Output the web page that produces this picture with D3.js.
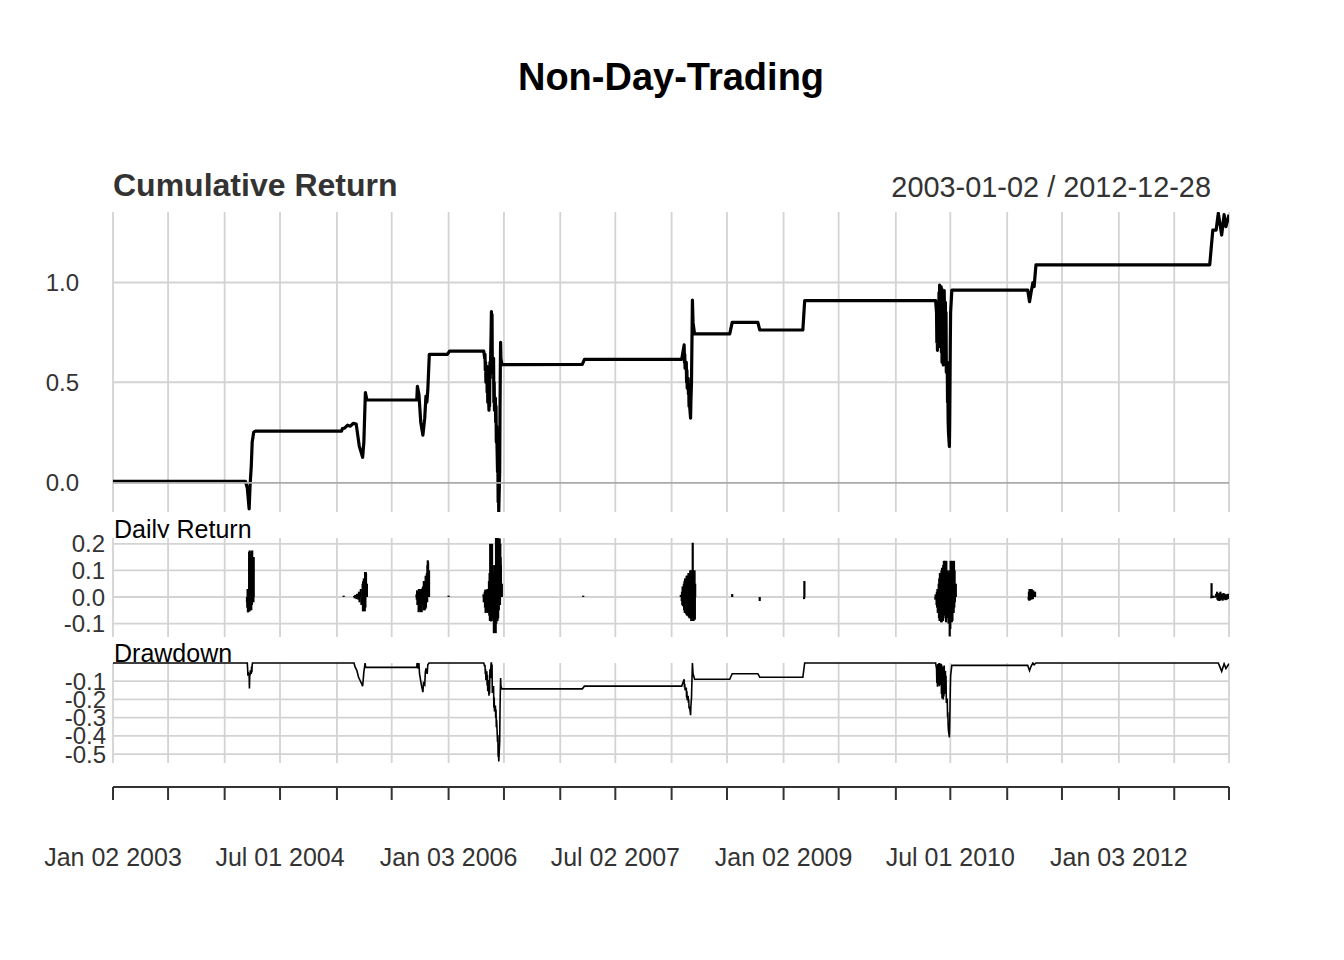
<!DOCTYPE html>
<html><head><meta charset="utf-8">
<script src="https://cdn.jsdelivr.net/npm/d3@7"></script>
<style>body{margin:0;background:#fff}svg{display:block}text{font-family:"Liberation Sans",Arial,sans-serif}</style>
</head><body>
<svg id="c" width="1344" height="960"></svg>
<script>
const chartTitle = "Non-Day-Trading";
const dateRange = "2003-01-02 / 2012-12-28";
const xTickDates = ["2003-01-02","2003-07-01","2004-01-02","2004-07-01","2005-01-03","2005-07-01","2006-01-03","2006-07-03","2007-01-03","2007-07-02","2008-01-02","2008-07-01","2009-01-02","2009-07-01","2010-01-04","2010-07-01","2011-01-03","2011-07-01","2012-01-03","2012-07-02","2012-12-28"];
const xTickLabels = ["Jan 02 2003","","","Jul 01 2004","","","Jan 03 2006","","","Jul 02 2007","","","Jan 02 2009","","","Jul 01 2010","","","Jan 03 2012","",""];
const cumTicks = [0.0, 0.5, 1.0];
const retTicks = [0.2, 0.1, 0.0, -0.1];
const ddTicks = [-0.1, -0.2, -0.3, -0.4, -0.5];

const cumulative = [
["2003-01-02",0.003],["2004-03-10",0.003],["2004-03-16",-0.03],["2004-03-22",-0.135],["2004-03-25",-0.02],["2004-03-29",0.08],["2004-04-01",0.2],["2004-04-06",0.25],["2004-04-12",0.255],
["2005-01-18",0.255],["2005-01-21",0.268],["2005-01-28",0.27],["2005-02-07",0.285],["2005-02-16",0.28],["2005-02-25",0.294],["2005-03-07",0.29],["2005-03-17",0.18],["2005-03-28",0.124],["2005-04-01",0.2],["2005-04-06",0.448],["2005-04-11",0.411],
["2005-09-21",0.411],["2005-09-23",0.48],["2005-09-28",0.44],["2005-10-04",0.3],["2005-10-11",0.235],["2005-10-17",0.32],["2005-10-21",0.43],["2005-10-24",0.40],["2005-10-27",0.46],["2005-11-01",0.64],
["2005-12-30",0.64],["2006-01-06",0.656],
["2006-04-28",0.656],["2006-05-01",0.62],["2006-05-02",0.64],["2006-05-03",0.56],["2006-05-04",0.60],["2006-05-05",0.50],["2006-05-08",0.58],["2006-05-09",0.45],["2006-05-10",0.55],["2006-05-11",0.40],["2006-05-12",0.50],["2006-05-15",0.36],["2006-05-16",0.45],["2006-05-17",0.38],["2006-05-18",0.60],["2006-05-19",0.52],["2006-05-22",0.75],["2006-05-23",0.854],["2006-05-24",0.70],["2006-05-25",0.84],["2006-05-26",0.55],["2006-05-30",0.62],["2006-05-31",0.40],["2006-06-01",0.50],["2006-06-02",0.36],["2006-06-05",0.42],["2006-06-06",0.30],["2006-06-07",0.38],["2006-06-08",0.20],["2006-06-09",0.28],["2006-06-12",0.05],["2006-06-13",0.12],["2006-06-14",-0.10],["2006-06-15",-0.05],["2006-06-16",-0.149],["2006-06-19",0.05],["2006-06-20",0.35],["2006-06-21",0.55],["2006-06-22",0.70],["2006-06-23",0.62],["2006-06-26",0.59],["2006-06-28",0.588],
["2007-03-16",0.59],["2007-03-23",0.615],
["2008-02-04",0.615],["2008-02-12",0.687],["2008-02-13",0.60],["2008-02-14",0.64],["2008-02-15",0.57],["2008-02-19",0.60],["2008-02-20",0.50],["2008-02-21",0.56],["2008-02-22",0.47],["2008-02-25",0.52],["2008-02-26",0.44],["2008-02-27",0.48],["2008-02-28",0.38],["2008-02-29",0.40],["2008-03-03",0.34],["2008-03-04",0.32],["2008-03-05",0.40],["2008-03-07",0.50],["2008-03-10",0.912],["2008-03-12",0.80],["2008-03-17",0.742],
["2008-07-10",0.742],["2008-07-18",0.80],["2008-10-10",0.80],["2008-10-16",0.762],["2009-03-06",0.762],["2009-03-12",0.909],
["2010-05-14",0.909],["2010-05-17",0.85],["2010-05-18",0.70],["2010-05-19",0.80],["2010-05-20",0.66],["2010-05-21",0.90],["2010-05-24",0.68],["2010-05-25",0.95],["2010-05-26",0.70],["2010-05-27",0.987],["2010-05-28",0.75],["2010-06-01",0.98],["2010-06-02",0.65],["2010-06-03",0.97],["2010-06-04",0.60],["2010-06-07",0.95],["2010-06-08",0.587],["2010-06-09",0.92],["2010-06-10",0.62],["2010-06-11",0.96],["2010-06-14",0.65],["2010-06-15",0.90],["2010-06-16",0.68],["2010-06-17",0.85],["2010-06-18",0.55],["2010-06-21",0.60],["2010-06-22",0.40],["2010-06-23",0.45],["2010-06-24",0.30],["2010-06-25",0.25],["2010-06-28",0.178],["2010-06-29",0.30],["2010-06-30",0.50],["2010-07-01",0.70],["2010-07-02",0.85],["2010-07-06",0.962],
["2011-03-11",0.962],["2011-03-17",0.904],["2011-03-22",0.95],["2011-03-28",1.0],["2011-04-01",0.98],["2011-04-07",1.088],
["2012-10-26",1.088],["2012-11-05",1.263],["2012-11-16",1.263],["2012-11-23",1.347],["2012-11-29",1.29],["2012-12-04",1.238],["2012-12-12",1.34],["2012-12-18",1.28],["2012-12-28",1.34]
];

const dailyReturns = [
["2004-03-15",-0.02],["2004-03-16",-0.04],["2004-03-17",0.03],["2004-03-18",-0.058],["2004-03-19",-0.05],["2004-03-22",0.17],["2004-03-23",-0.055],["2004-03-24",0.175],["2004-03-25",-0.045],["2004-03-26",0.16],["2004-03-29",-0.05],["2004-03-30",0.17],["2004-03-31",-0.03],["2004-04-01",0.175],["2004-04-02",0.12],["2004-04-05",-0.02],["2004-04-06",0.15],
["2005-01-25",0.005],
["2005-02-28",0.004],["2005-03-02",-0.005],["2005-03-04",0.008],["2005-03-08",-0.008],["2005-03-10",0.012],["2005-03-14",-0.01],["2005-03-16",0.02],["2005-03-18",-0.02],["2005-03-22",0.03],["2005-03-24",-0.03],["2005-03-28",0.05],["2005-03-29",-0.054],["2005-03-30",0.06],["2005-03-31",-0.05],["2005-04-01",0.07],["2005-04-04",-0.054],["2005-04-05",0.094],["2005-04-06",-0.04],["2005-04-07",0.094],["2005-04-08",0.09],["2005-04-11",0.05],
["2005-09-20",0.01],["2005-09-21",-0.01],["2005-09-22",0.025],["2005-09-23",-0.03],["2005-09-26",0.02],["2005-09-27",-0.057],["2005-09-28",0.03],["2005-09-29",-0.05],["2005-09-30",0.025],["2005-10-03",-0.057],["2005-10-04",0.03],["2005-10-05",-0.04],["2005-10-06",0.03],["2005-10-07",-0.057],["2005-10-10",0.035],["2005-10-11",-0.03],["2005-10-12",0.04],["2005-10-13",-0.05],["2005-10-14",0.06],["2005-10-17",-0.05],["2005-10-18",0.06],["2005-10-19",-0.045],["2005-10-20",0.08],["2005-10-21",-0.04],["2005-10-24",0.09],["2005-10-25",-0.02],["2005-10-26",0.12],["2005-10-27",0.138],["2005-10-28",0.13],["2005-10-31",0.1],
["2006-01-03",0.005],
["2006-04-27",0.01],["2006-04-28",-0.02],["2006-05-01",0.02],["2006-05-02",-0.04],["2006-05-03",0.028],["2006-05-04",-0.06],["2006-05-05",0.02],["2006-05-08",-0.05],["2006-05-09",0.028],["2006-05-10",-0.06],["2006-05-11",0.03],["2006-05-12",-0.055],["2006-05-15",0.06],["2006-05-16",-0.07],["2006-05-17",0.09],["2006-05-18",-0.09],["2006-05-19",0.2],["2006-05-22",-0.092],["2006-05-23",0.08],["2006-05-24",-0.09],["2006-05-25",0.2],["2006-05-26",-0.08],["2006-05-30",0.09],["2006-05-31",-0.136],["2006-06-01",0.12],["2006-06-02",-0.12],["2006-06-05",0.1],["2006-06-06",-0.136],["2006-06-07",0.226],["2006-06-08",-0.1],["2006-06-09",0.22],["2006-06-12",-0.09],["2006-06-13",0.226],["2006-06-14",-0.08],["2006-06-15",0.22],["2006-06-16",-0.05],["2006-06-19",0.22],["2006-06-20",-0.03],["2006-06-21",0.2],["2006-06-22",0.15],["2006-06-23",0.12],["2006-06-26",0.05],
["2007-03-19",0.005],
["2008-02-01",0.008],["2008-02-04",-0.015],["2008-02-05",0.02],["2008-02-06",-0.03],["2008-02-07",0.04],["2008-02-08",-0.035],["2008-02-11",0.05],["2008-02-12",-0.05],["2008-02-13",0.06],["2008-02-14",-0.06],["2008-02-15",0.07],["2008-02-19",-0.065],["2008-02-20",0.08],["2008-02-21",-0.07],["2008-02-22",0.08],["2008-02-25",-0.07],["2008-02-26",0.09],["2008-02-27",-0.075],["2008-02-28",0.09],["2008-02-29",-0.08],["2008-03-03",0.1],["2008-03-04",-0.08],["2008-03-05",0.1],["2008-03-06",-0.09],["2008-03-07",0.1],["2008-03-10",-0.09],["2008-03-11",0.204],["2008-03-12",-0.09],["2008-03-13",0.1],["2008-03-14",-0.09],["2008-03-17",0.1],["2008-03-18",-0.085],["2008-03-19",0.05],
["2008-07-18",0.011],["2008-10-16",-0.015],["2009-03-10",-0.008],["2009-03-11",0.06],
["2010-05-13",-0.01],["2010-05-14",0.01],["2010-05-17",-0.03],["2010-05-18",0.02],["2010-05-19",-0.04],["2010-05-20",0.03],["2010-05-21",-0.06],["2010-05-24",0.05],["2010-05-25",-0.08],["2010-05-26",0.07],["2010-05-27",-0.09],["2010-05-28",0.09],["2010-06-01",-0.095],["2010-06-02",0.1],["2010-06-03",-0.095],["2010-06-04",0.11],["2010-06-07",-0.09],["2010-06-08",0.12],["2010-06-09",-0.08],["2010-06-10",0.136],["2010-06-11",-0.07],["2010-06-14",0.136],["2010-06-15",-0.06],["2010-06-16",0.13],["2010-06-17",-0.095],["2010-06-18",0.136],["2010-06-21",-0.06],["2010-06-22",0.1],["2010-06-23",-0.08],["2010-06-24",0.09],["2010-06-25",-0.1],["2010-06-28",0.1],["2010-06-29",-0.148],["2010-06-30",0.08],["2010-07-01",-0.12],["2010-07-02",0.136],["2010-07-06",-0.095],["2010-07-07",0.136],["2010-07-08",-0.09],["2010-07-09",0.13],["2010-07-12",-0.06],["2010-07-13",0.136],["2010-07-14",-0.04],["2010-07-15",0.1],["2010-07-16",-0.02],["2010-07-19",0.05],
["2011-03-14",-0.01],["2011-03-15",0.02],["2011-03-16",-0.014],["2011-03-17",0.03],["2011-03-18",-0.012],["2011-03-21",0.03],["2011-03-22",0.025],["2011-03-23",-0.01],["2011-03-24",0.03],["2011-03-25",0.02],["2011-03-28",-0.008],["2011-03-29",0.025],["2011-03-30",0.015],["2011-04-04",0.02],
["2012-10-31",-0.005],["2012-11-01",0.052],["2012-11-02",0.005],["2012-11-05",-0.004],["2012-11-08",0.005],["2012-11-13",-0.003],["2012-11-16",0.012],["2012-11-19",0.02],["2012-11-20",-0.01],["2012-11-21",0.015],["2012-11-23",-0.014],["2012-11-26",0.01],["2012-11-27",-0.015],["2012-11-28",0.015],["2012-11-29",-0.012],["2012-11-30",0.02],["2012-12-03",-0.01],["2012-12-05",0.012],["2012-12-07",-0.014],["2012-12-10",0.015],["2012-12-12",-0.01],["2012-12-14",0.012],["2012-12-17",-0.012],["2012-12-19",0.01],["2012-12-21",-0.01],["2012-12-24",0.012],["2012-12-26",-0.008],["2012-12-28",0.01]
];

const drawdown = [
["2003-01-02",0],["2004-03-16",0],["2004-03-17",-0.03],["2004-03-18",-0.07],["2004-03-19",-0.05],["2004-03-22",-0.07],["2004-03-23",-0.14],["2004-03-24",-0.06],["2004-03-25",-0.07],["2004-03-26",-0.04],["2004-03-29",-0.06],["2004-03-30",-0.02],["2004-03-31",-0.05],["2004-04-01",-0.01],["2004-04-02",0],
["2005-02-28",0],["2005-03-03",-0.02],["2005-03-09",-0.04],["2005-03-15",-0.08],["2005-03-21",-0.10],["2005-03-28",-0.127],["2005-03-30",-0.09],["2005-04-01",-0.05],["2005-04-05",0],["2005-04-07",-0.024],
["2005-09-21",-0.024],["2005-09-22",0],["2005-09-26",-0.03],["2005-09-28",0],["2005-09-30",-0.06],["2005-10-04",-0.10],["2005-10-07",-0.13],["2005-10-11",-0.16],["2005-10-13",-0.11],["2005-10-17",-0.12],["2005-10-19",-0.05],["2005-10-21",-0.03],["2005-10-25",-0.06],["2005-10-27",-0.01],["2005-10-31",0],
["2006-04-28",0],["2006-05-01",-0.02],["2006-05-02",-0.01],["2006-05-03",-0.06],["2006-05-04",-0.034],["2006-05-05",-0.094],["2006-05-08",-0.046],["2006-05-09",-0.124],["2006-05-10",-0.064],["2006-05-11",-0.155],["2006-05-12",-0.094],["2006-05-15",-0.18],["2006-05-16",-0.124],["2006-05-17",-0.167],["2006-05-18",-0.034],["2006-05-19",-0.082],["2006-05-22",0],["2006-05-23",0],["2006-05-24",-0.083],["2006-05-25",-0.008],["2006-05-26",-0.164],["2006-05-30",-0.126],["2006-05-31",-0.245],["2006-06-01",-0.19],["2006-06-02",-0.266],["2006-06-05",-0.234],["2006-06-06",-0.30],["2006-06-07",-0.256],["2006-06-08",-0.353],["2006-06-09",-0.31],["2006-06-12",-0.434],["2006-06-13",-0.396],["2006-06-14",-0.515],["2006-06-15",-0.488],["2006-06-16",-0.541],["2006-06-19",-0.434],["2006-06-20",-0.272],["2006-06-21",-0.164],["2006-06-22",-0.083],["2006-06-23",-0.126],["2006-06-26",-0.142],["2006-06-28",-0.142],
["2007-03-16",-0.142],["2007-03-23",-0.127],
["2008-02-04",-0.127],["2008-02-12",-0.09],["2008-02-13",-0.135],["2008-02-14",-0.115],["2008-02-15",-0.15],["2008-02-19",-0.135],["2008-02-20",-0.19],["2008-02-21",-0.155],["2008-02-22",-0.205],["2008-02-25",-0.18],["2008-02-26",-0.22],["2008-02-27",-0.2],["2008-02-28",-0.25],["2008-02-29",-0.24],["2008-03-03",-0.27],["2008-03-04",-0.287],["2008-03-05",-0.24],["2008-03-07",-0.19],["2008-03-10",0],["2008-03-12",-0.058],["2008-03-17",-0.089],
["2008-07-10",-0.089],["2008-07-18",-0.059],["2008-10-10",-0.059],["2008-10-16",-0.078],["2009-03-06",-0.078],["2009-03-12",0],
["2010-05-14",0],["2010-05-17",-0.031],["2010-05-18",-0.11],["2010-05-19",-0.057],["2010-05-20",-0.13],["2010-05-21",-0.005],["2010-05-24",-0.12],["2010-05-25",0],["2010-05-26",-0.128],["2010-05-27",0],["2010-05-28",-0.12],["2010-06-01",-0.004],["2010-06-02",-0.17],["2010-06-03",-0.009],["2010-06-04",-0.195],["2010-06-07",-0.019],["2010-06-08",-0.20],["2010-06-09",-0.034],["2010-06-10",-0.184],["2010-06-11",-0.014],["2010-06-14",-0.17],["2010-06-15",-0.044],["2010-06-16",-0.155],["2010-06-17",-0.07],["2010-06-18",-0.22],["2010-06-21",-0.195],["2010-06-22",-0.296],["2010-06-23",-0.27],["2010-06-24",-0.346],["2010-06-25",-0.37],["2010-06-28",-0.408],["2010-06-29",-0.346],["2010-06-30",-0.245],["2010-07-01",-0.145],["2010-07-02",-0.07],["2010-07-06",-0.013],
["2011-03-11",-0.013],["2011-03-17",-0.042],["2011-03-22",-0.018],["2011-03-28",0],["2011-04-01",-0.01],["2011-04-07",0],
["2012-11-23",0],["2012-11-29",-0.024],["2012-12-04",-0.046],["2012-12-12",-0.004],["2012-12-18",-0.03],["2012-12-28",-0.004]
];

const parse = d3.utcParse("%Y-%m-%d");
const svg = d3.select("#c");
const X0 = 113, X1 = 1229;
const x = d3.scaleUtc().domain([parse("2003-01-02"), parse("2012-12-28")]).range([X0, X1]);
const yC = d3.scaleLinear().domain([-0.1504, 1.3534]).range([512, 212]);
const yR = d3.scaleLinear().domain([-0.1504, 0.2218]).range([637, 538]);
const yD = d3.scaleLinear().domain([-0.549, 0]).range([763, 663]);
const tickD = xTickDates.map(parse);
const GRID = "#d3d3d3";

// titles
svg.append("text").attr("x", 671).attr("y", 90).attr("text-anchor", "middle")
  .attr("font-size", 38).attr("font-weight", "bold").attr("fill", "#000").text(chartTitle);
svg.append("text").attr("x", 113).attr("y", 196).attr("font-size", 32).attr("font-weight", "bold")
  .attr("fill", "#333").text("Cumulative Return");
svg.append("text").attr("x", 1211).attr("y", 197).attr("text-anchor", "end").attr("font-size", 28.9)
  .attr("fill", "#333").text(dateRange);

function clip(id, y0, y1) {
  svg.append("clipPath").attr("id", id).append("rect")
    .attr("x", X0).attr("y", y0).attr("width", X1 - X0).attr("height", y1 - y0);
}
function vgrid(y0, y1) {
  svg.append("g").selectAll("line").data(tickD).join("line")
    .attr("x1", d => x(d)).attr("x2", d => x(d)).attr("y1", y0).attr("y2", y1)
    .attr("stroke", GRID).attr("stroke-width", 1.8);
}
function hgrid(scale, vals, color) {
  svg.append("g").selectAll("line").data(vals).join("line")
    .attr("x1", X0).attr("x2", X1).attr("y1", d => scale(d)).attr("y2", d => scale(d))
    .attr("stroke", color || GRID).attr("stroke-width", 1.8);
}
function ylabels(scale, vals, xr, fmt) {
  svg.append("g").selectAll("text").data(vals).join("text")
    .attr("x", xr).attr("y", d => scale(d)).attr("dy", "0.36em").attr("text-anchor", "end")
    .attr("font-size", 24).attr("fill", "#333").text(fmt);
}
const fmt1 = d => d3.format(".1f")(d).replace("\u2212", "-");

// --- Top panel
clip("cpTop", 212, 512);
vgrid(212, 512);
hgrid(yC, [0.5, 1.0]);
svg.append("path").datum(cumulative).attr("clip-path", "url(#cpTop)")
  .attr("fill", "none").attr("stroke", "#000").attr("stroke-width", 3.2).attr("stroke-linejoin", "round")
  .attr("d", d3.line().x(d => x(parse(d[0]))).y(d => yC(d[1])));
svg.append("line").attr("x1", X0).attr("x2", X1).attr("y1", yC(0) + 0.8).attr("y2", yC(0) + 0.8)
  .attr("stroke", "#aaaaaa").attr("stroke-width", 1.8);
ylabels(yC, cumTicks, 79, fmt1);

// --- Daily return panel
svg.append("text").attr("x", 114).attr("y", 538).attr("font-size", 25).attr("fill", "#000").text("Daily Return");
svg.append("rect").attr("x", X0).attr("y", 538).attr("width", X1 - X0).attr("height", 99).attr("fill", "#fff");
clip("cpRet", 538, 637);
vgrid(538, 637);
hgrid(yR, retTicks);
svg.append("g").attr("clip-path", "url(#cpRet)").selectAll("line").data(dailyReturns).join("line")
  .attr("x1", d => x(parse(d[0]))).attr("x2", d => x(parse(d[0])))
  .attr("y1", yR(0)).attr("y2", d => yR(d[1]))
  .attr("stroke", "#000").attr("stroke-width", 2.2);
ylabels(yR, retTicks, 105, fmt1);

// --- Drawdown panel
clip("cpDD", 662, 763);
vgrid(663, 763);
hgrid(yD, ddTicks);
svg.append("text").attr("x", 114).attr("y", 662).attr("font-size", 25).attr("fill", "#000").text("Drawdown");
svg.append("path").datum(drawdown).attr("clip-path", "url(#cpDD)")
  .attr("fill", "none").attr("stroke", "#000").attr("stroke-width", 1.6)
  .attr("d", d3.line().x(d => x(parse(d[0]))).y(d => yD(d[1])));
ylabels(yD, ddTicks, 106, fmt1);

// --- X axis
const ax = svg.append("g");
ax.append("line").attr("x1", X0).attr("x2", X1).attr("y1", 787).attr("y2", 787)
  .attr("stroke", "#333").attr("stroke-width", 2);
ax.selectAll("line.t").data(tickD).join("line").attr("class", "t")
  .attr("x1", d => x(d)).attr("x2", d => x(d)).attr("y1", 787).attr("y2", 800)
  .attr("stroke", "#333").attr("stroke-width", 2);
ax.selectAll("text").data(tickD).join("text")
  .attr("x", d => x(d)).attr("y", 866).attr("text-anchor", "middle")
  .attr("font-size", 25).attr("fill", "#333").text((d, i) => xTickLabels[i]);
</script>
</body></html>
